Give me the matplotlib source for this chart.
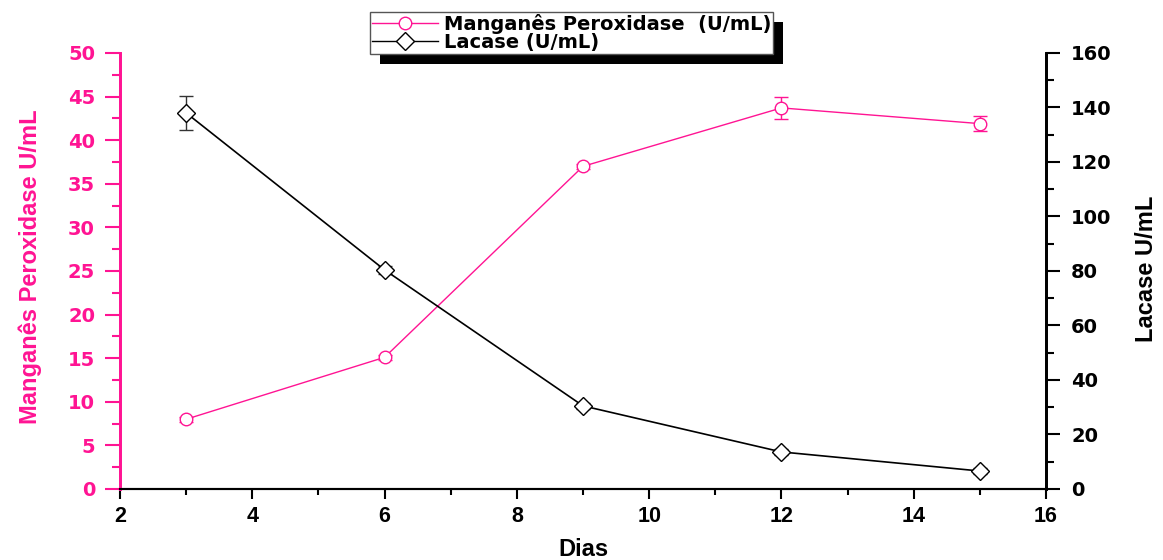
import matplotlib
matplotlib.use("Agg")
import matplotlib.pyplot as plt
from matplotlib.patches import Rectangle
from matplotlib.ticker import MultipleLocator
from matplotlib.lines import Line2D

dias = [3, 6, 9, 12, 15]
mnp = [8.0, 15.1, 37.0, 43.7, 41.9]
mnp_err = [0.3, 0.3, 0.3, 1.3, 0.9]
lacase = [138, 80.4, 30.5, 13.6, 6.6]
lacase_err = [6.2, 1.5, 1.2, 1.0, 1.0]
legend_labels = ['Manganês Peroxidase  (U/mL)', 'Lacase (U/mL)']

PINK = "#FF1493"
plt.rcParams['font.family'] = ['Liberation Sans', 'DejaVu Sans']

fig = plt.figure(figsize=(11.63, 5.6), dpi=100)
ax = fig.add_axes([0.1032, 0.1268, 0.7962, 0.7786])
ax2 = ax.twinx()

ax.errorbar(dias, mnp, yerr=mnp_err, color=PINK, lw=1, marker='o', ms=9,
            mfc='white', mec=PINK, mew=1, capsize=5, elinewidth=1, capthick=1,
            zorder=3)
ax2.errorbar(dias, lacase, yerr=lacase_err, color='black', lw=1.2, marker='D', ms=9,
             mfc='white', mec='black', mew=1, capsize=5, elinewidth=1, capthick=1,
             ecolor='#333333', zorder=3)

ax.set_xlim(2, 16)
ax.set_ylim(0, 50)
ax2.set_ylim(0, 160)

ax.xaxis.set_major_locator(MultipleLocator(2))
ax.xaxis.set_minor_locator(MultipleLocator(1))
ax.yaxis.set_major_locator(MultipleLocator(5))
ax.yaxis.set_minor_locator(MultipleLocator(2.5))
ax2.yaxis.set_major_locator(MultipleLocator(20))
ax2.yaxis.set_minor_locator(MultipleLocator(10))

for a in (ax, ax2):
    a.spines['top'].set_visible(False)
    a.spines['left'].set_linewidth(2)
    a.spines['right'].set_linewidth(2)
    a.spines['bottom'].set_linewidth(1.5)
ax.spines['left'].set_color(PINK)
ax2.spines['left'].set_color(PINK)
ax.spines['right'].set_color('black')
ax2.spines['right'].set_color('black')

ax.tick_params(axis='x', which='major', direction='out', length=7, width=1.5,
               labelsize=15.5, pad=5)
ax.tick_params(axis='x', which='minor', direction='out', length=4, width=1.5)
ax.tick_params(axis='y', which='major', direction='out', length=11, width=1.5,
               colors=PINK, labelsize=14, pad=7)
ax.tick_params(axis='y', which='minor', direction='out', length=6, width=1.5, colors=PINK)
ax2.tick_params(axis='y', which='major', direction='out', length=10, width=1.5,
                labelsize=14, pad=8)
ax2.tick_params(axis='y', which='minor', direction='out', length=6, width=1.5)
for lab in ax.get_xticklabels():
    lab.set_fontweight('bold')
for lab in ax.get_yticklabels() + ax2.get_yticklabels():
    lab.set_fontweight('bold')
    lab.set_family('DejaVu Sans')

ax.set_xlabel('Dias', fontsize=17, fontweight='bold')
ax.xaxis.set_label_coords(0.5, -0.112)
ax.set_ylabel('Manganês Peroxidase U/mL', fontsize=17, fontweight='bold', color=PINK)
ax.yaxis.set_label_coords(-0.084, 0.509)
ax2.set_ylabel('Lacase U/mL', fontsize=17, fontweight='bold', color='black')
ax2.yaxis.set_label_coords(1.096, 0.505)

handles = [Line2D([], [], color=PINK, lw=1, marker='o', ms=9, mfc='white', mec=PINK),
           Line2D([], [], color='black', lw=1, marker='D', ms=9, mfc='white', mec='black')]
leg = fig.legend(handles, legend_labels, loc='upper left',
                 bbox_to_anchor=(370 / 1163, 1 - 12 / 560),
                 prop={'weight': 'bold', 'size': 14, 'family': 'DejaVu Sans'},
                 frameon=True, fancybox=False, framealpha=1,
                 borderpad=0.1, labelspacing=-0.05, handlelength=3.4, handletextpad=0.3,
                 borderaxespad=0)
leg.get_frame().set_edgecolor('#555555')
leg.get_frame().set_facecolor('white')
leg.get_frame().set_linewidth(1)
leg.set_zorder(10)

fig.canvas.draw()
bb = leg.get_window_extent().transformed(fig.transFigure.inverted())
dx, dy = 10 / 1163, 10 / 560
shadow = Rectangle((bb.x0 + dx, bb.y0 - dy), bb.width, bb.height,
                   transform=fig.transFigure, facecolor='black', edgecolor='none',
                   zorder=5)
fig.patches.append(shadow)

fig.savefig('out.png', dpi=100)
